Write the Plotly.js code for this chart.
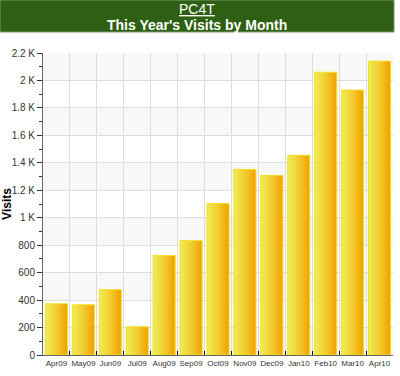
<!DOCTYPE html>
<html>
<head>
<meta charset="utf-8">
<script src="https://cdn.plot.ly/plotly-3.0.1.min.js"></script>
<style>
html,body{margin:0;padding:0;background:#fff;}
#chart{width:400px;height:376px;}
</style>
</head>
<body>
<div id="chart"></div>
<script>
const months = ["Apr09","May09","Jun09","Jul09","Aug09","Sep09","Oct09","Nov09","Dec09","Jan10","Feb10","Mar10","Apr10"];
const visits = [373, 366, 476, 206, 724, 833, 1104, 1352, 1308, 1455, 2060, 1930, 2141];
const yTickVals = [0,200,400,600,800,1000,1200,1400,1600,1800,2000,2200];
const yTickText = ["0","200","400","600","800","1 K","1.2 K","1.4 K","1.6 K","1.8 K","2 K","2.2 K"];

const shapes = [];
// green header band
shapes.push({type:"rect", xref:"paper", yref:"paper", x0:-43/350, x1:351/350, y0:1+ (53-32)/302, y1:1+53/302,
  fillcolor:"#2f5f12", line:{color:"#7a9a6a", width:1}, layer:"above"});
// alternating bands
for (let i = 0; i < yTickVals.length - 1; i += 2) {
  shapes.push({type:"rect", xref:"paper", yref:"y", x0:0, x1:1, y0:yTickVals[i], y1:yTickVals[i+1],
    fillcolor:"#f8f8f8", line:{width:0}, layer:"below"});
}

const trace = {
  type:"bar", x:months, y:visits,
  marker:{color:"#f2c020", line:{color:"#f5e020", width:1}},
  hoverinfo:"none"
};

const layout = {
  width:400, height:376,
  margin:{l:43, r:7, t:53, b:21},
  paper_bgcolor:"#ffffff", plot_bgcolor:"#ffffff",
  font:{family:"Liberation Sans, Arial, sans-serif", size:10, color:"#333"},
  bargap:0.18,
  showlegend:false,
  shapes:shapes,
  annotations:[
    {xref:"paper", yref:"paper", x:0.44, y:1+(53-9)/302, text:"<u>PC4T</u>", showarrow:false,
     font:{size:14, color:"#ffffff", family:"Liberation Sans, Arial, sans-serif"}, yanchor:"middle"},
    {xref:"paper", yref:"paper", x:0.44, y:1+(53-25)/302, text:"<b>This Year's Visits by Month</b>", showarrow:false,
     font:{size:14, color:"#ffffff", family:"Liberation Sans, Arial, sans-serif"}, yanchor:"middle"}
  ],
  xaxis:{
    type:"category", tickson:"boundaries", ticks:"inside", ticklen:4, tickcolor:"#000",
    showgrid:true, gridcolor:"#dddddd", gridwidth:1,
    showline:true, linecolor:"#666", linewidth:1,
    tickangle:0, tickfont:{size:8, color:"#333"}, fixedrange:true
  },
  yaxis:{
    range:[0,2200], tickvals:yTickVals, ticktext:yTickText,
    ticks:"outside", ticklen:5, tickcolor:"#333",
    minor:{dtick:100, ticks:"outside", ticklen:3, tickcolor:"#333", showgrid:false},
    showgrid:true, gridcolor:"#dddddd", gridwidth:1,
    showline:true, linecolor:"#666", linewidth:1, zeroline:false,
    tickfont:{size:10, color:"#333"},
    title:{text:"<b>Visits</b>", font:{size:12, color:"#000"}, standoff:4},
    fixedrange:true
  }
};

Plotly.newPlot("chart", [trace], layout, {staticPlot:true, displayModeBar:false}).then(function(gd){
  const svg = gd.querySelector("svg.main-svg");
  const ns = "http://www.w3.org/2000/svg";
  let defs = svg.querySelector("defs");
  if (!defs) { defs = document.createElementNS(ns, "defs"); svg.insertBefore(defs, svg.firstChild); }
  const g = document.createElementNS(ns, "linearGradient");
  g.setAttribute("id", "barGrad");
  g.setAttribute("x1","0"); g.setAttribute("x2","1"); g.setAttribute("y1","0"); g.setAttribute("y2","0");
  [["0%","#eeee58"],["50%","#f2cc30"],["100%","#f0a000"]].forEach(function(s){
    const st = document.createElementNS(ns, "stop");
    st.setAttribute("offset", s[0]); st.setAttribute("stop-color", s[1]);
    g.appendChild(st);
  });
  defs.appendChild(g);
  gd.querySelectorAll(".bars .point path").forEach(function(p){
    p.style.fill = "url(#barGrad)";
  });
});
</script>
</body>
</html>
